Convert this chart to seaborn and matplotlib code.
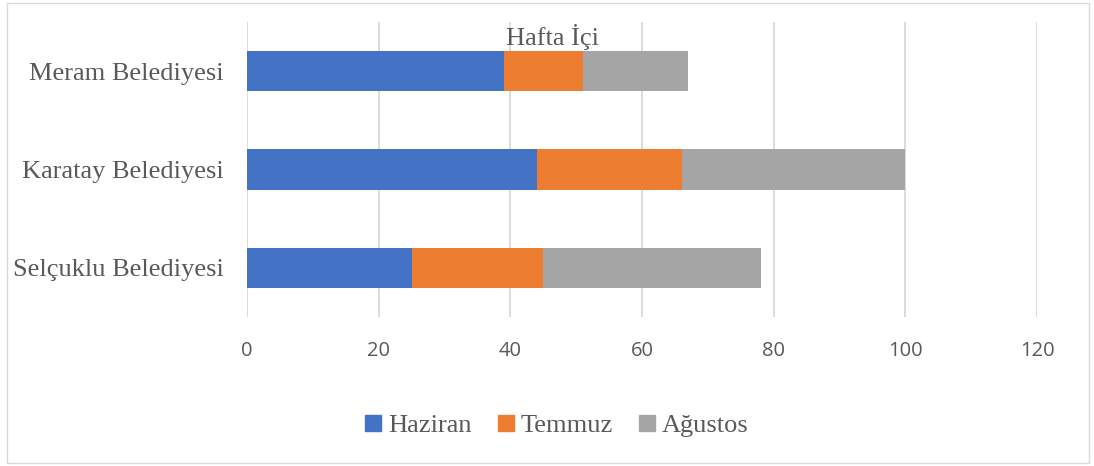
import pandas as pd
import seaborn as sns
import matplotlib.pyplot as plt
from matplotlib.patches import Rectangle, Patch

# veriler
belediyeler = ["Meram Belediyesi", "Karatay Belediyesi", "Selçuklu Belediyesi"]
haziran = [39, 44, 25]
temmuz = [12, 22, 20]
agustos = [16, 34, 33]
aylar = ["Haziran", "Temmuz", "Ağustos"]
renkler = ["#4472C4", "#ED7D31", "#A5A5A5"]
x_ticks = [0, 20, 40, 60, 80, 100, 120]

df = pd.DataFrame({"Belediye": belediyeler, "Haziran": haziran,
                   "Temmuz": temmuz, "Ağustos": agustos})
# yığılmış çubuklar için kümülatif toplamlar
df["c1"] = df["Haziran"]
df["c2"] = df["Haziran"] + df["Temmuz"]
df["c3"] = df["c2"] + df["Ağustos"]

sns.set_theme(style="white")
plt.rcParams["font.family"] = ["Liberation Serif", "DejaVu Serif"]

fig = plt.figure(figsize=(10.94, 4.66), dpi=100)
ax = fig.add_axes([0.2258, 0.3197, 0.7221, 0.6331])

for col, renk in zip(["c3", "c2", "c1"], renkler[::-1]):
    sns.barplot(data=df, x=col, y="Belediye", order=belediyeler, color=renk,
                width=0.41, saturation=1, orient="h", ax=ax, edgecolor="none")

ax.set_xlim(0, 120)
ax.set_ylim(2.5, -0.5)
ax.set_xticks(x_ticks)
ax.set_xticklabels([str(t) for t in x_ticks], family="Open Sans",
                   fontsize=14.5, color="#595959")
ax.tick_params(axis="x", length=0, pad=17)
ax.tick_params(axis="y", length=0, pad=17, labelsize=19, labelcolor="#595959")
ax.set_xlabel("")
ax.set_ylabel("")
ax.grid(axis="x", color="#d9d9d9", lw=1.3)
ax.set_axisbelow(True)
for s in ax.spines.values():
    s.set_visible(False)

fig.text(0.505, 1 - 37 / 466, "Hafta İçi", ha="center", va="center",
         fontsize=19, color="#595959")

handles = [Patch(color=c, label=a) for c, a in zip(renkler, aylar)]
leg = fig.legend(handles=handles, loc="center", bbox_to_anchor=(0.509, 0.086),
                 ncol=3, frameon=False, fontsize=19, handlelength=0.6,
                 handleheight=0.6, handletextpad=0.25, columnspacing=1.0)
for t in leg.get_texts():
    t.set_color("#595959")

fig.patches.append(Rectangle((7 / 1094, 3 / 466), 1082 / 1094, 460 / 466,
                             transform=fig.transFigure, fill=False,
                             edgecolor="#d9d9d9", lw=1))

fig.savefig("out.png", dpi=100)
